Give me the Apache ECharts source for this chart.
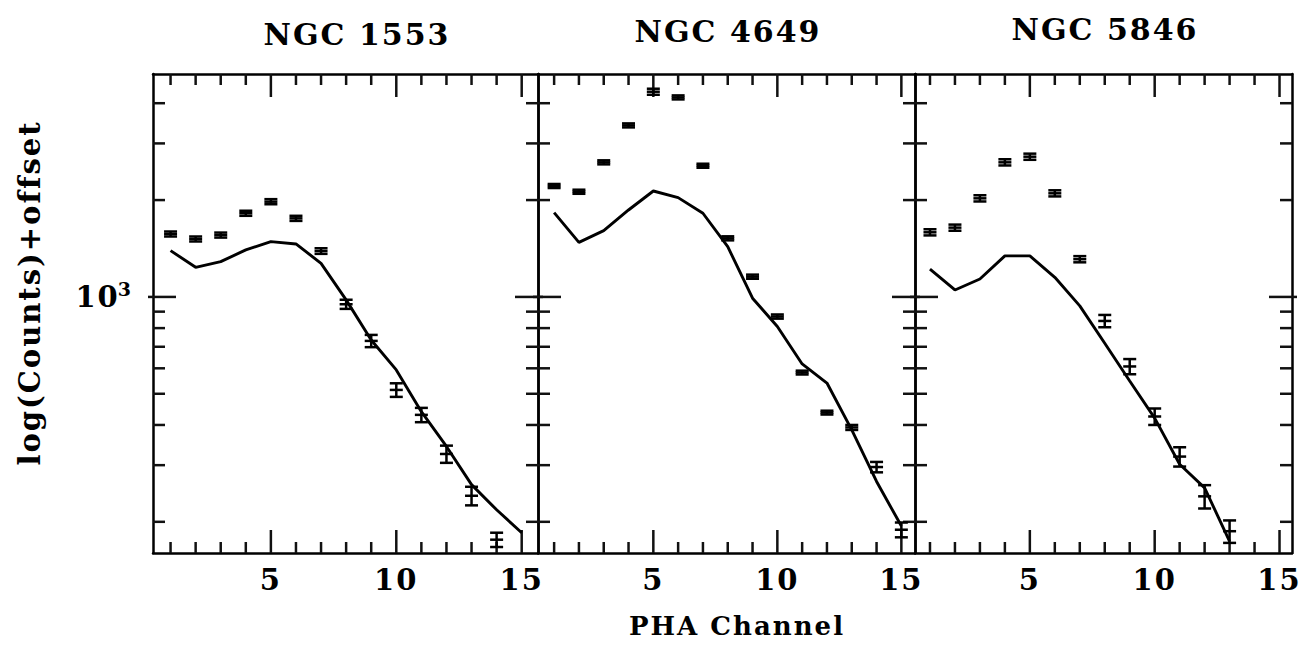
<!DOCTYPE html>
<html>
<head>
<meta charset="utf-8">
<script src="https://cdn.jsdelivr.net/npm/echarts@6/dist/echarts.min.js"></script>
<style>
html,body{margin:0;padding:0;background:#fff;}
#chart{width:1309px;height:656px;}
#chart text{letter-spacing:2px;}
</style>
</head>
<body>
<div id="chart"></div>
<script>
// ---------- data ----------
const titles = ['NGC 1553', 'NGC 4649', 'NGC 5846'];

const dataChannels1 = [1,2,3,4,5,6,7,8,9,10,11,12,13,14];
const counts1 = [1569,1514,1557,1820,1977,1755,1389,949,730,514,430,325,241,176];
const errors1 = [28,27,28,33,36,32,28,31,32,25,22,20,16,9];
const modelChannels1 = [1,2,3,4,5,6,7,8,9,10,11,12,13,14,15];
const model1 = [1393,1236,1287,1400,1485,1461,1272,979,735,593,440,343,261,218,185];

const dataChannels2 = [1,2,3,4,5,6,7,8,9,10,11,12,13,14,15];
const counts2 = [2212,2123,2620,3413,4343,4170,2557,1521,1156,869,582,437,393,296,189];
const errors2 = [32,31,38,49,94,60,37,22,17,13,8,6,7,11,10];
const modelChannels2 = [1,2,3,4,5,6,7,8,9,10,11,12,13,14,15];
const model2 = [1828,1478,1607,1863,2134,2035,1820,1433,991,809,619,540,386,267,194];

const dataChannels3 = [1,2,3,4,5,6,7,8,9,10,11,12,13];
const counts3 = [1588,1642,2025,2620,2728,2099,1310,842,608,425,319,240,187];
const errors3 = [35,36,45,58,60,46,29,37,33,25,22,20,15];
const modelChannels3 = [1,2,3,4,5,6,7,8,9,10,11,12,13];
const model3 = [1221,1051,1137,1341,1341,1151,938,718,548,420,302,255,174];

const xMinorTicks = [1,2,3,4,5,6,7,8,9,10,11,12,13,14,15];
const xMajorTicks = [5,10,15];
const yMinorTicks = [200,300,400,500,600,700,800,900,2000,3000,4000];
const yMajorTicks = [1000];
const yRange = [160, 4930];

const xAxisName = 'PHA Channel';
const yAxisName = 'log(Counts)+offset';

// ---------- layout ----------
const panelLeft = [153, 538, 915];
const panelWidth = [385, 377, 377];
const panelTop = 74;
const panelHeight = 479;
const xMin = [0.3, 0.35, 0.4];
const xMax = [15.65, 15.55, 15.5];
const titleX = [357, 728, 1105];
const titleY = [34, 31, 29];

const FONT = '"DejaVu Serif", serif';
const LW = 2.5;
const TICK_COLOR = '#111111';
const X_MINOR_LEN = 11, X_MAJOR_LEN = 23, Y_MINOR_LEN = 12, Y_MAJOR_LEN = 23, Y_MAJOR_OUT = 5;

const panels = [
  {ch: dataChannels1, v: counts1, e: errors1, mch: modelChannels1, m: model1},
  {ch: dataChannels2, v: counts2, e: errors2, mch: modelChannels2, m: model2},
  {ch: dataChannels3, v: counts3, e: errors3, mch: modelChannels3, m: model3}
];

const grids = [], xAxes = [], yAxes = [], series = [];

function xAx(p, pos, labels) {
  return {
    type: 'value', gridIndex: p, position: pos, min: xMin[p], max: xMax[p],
    axisLine: {show: true, onZero: false, lineStyle: {color: '#000', width: LW}},
    axisTick: {show: false},
    axisLabel: labels ? {show: true, customValues: labels, margin: 12, color: '#000',
      fontFamily: FONT, fontSize: 29, fontWeight: 'bold'} : {show: false},
    splitLine: {show: false}
  };
}
function yAx(p, pos, labels) {
  return {
    type: 'log', gridIndex: p, position: pos, min: yRange[0], max: yRange[1],
    axisLine: {show: true, onZero: false, lineStyle: {color: '#000', width: LW}},
    axisTick: {show: false},
    axisLabel: labels ? {
      show: true, customValues: labels, margin: 20, color: '#000',
      formatter: v => '{b|10}{s|' + Math.round(Math.log10(v)) + '}',
      rich: {
        b: {fontFamily: FONT, fontSize: 29, fontWeight: 'bold', color: '#000', lineHeight: 34},
        s: {fontFamily: FONT, fontSize: 19, fontWeight: 'bold', color: '#000', verticalAlign: 'top', lineHeight: 34}
      }
    } : {show: false},
    splitLine: {show: false}
  };
}

function seg(x1, y1, x2, y2, col) {
  return {type: 'line', shape: {x1: x1, y1: y1, x2: x2, y2: y2}, style: {stroke: col || '#000', lineWidth: LW}};
}

function renderErr(params, api) {
  const x = api.value(0), v = api.value(1), e = api.value(2);
  const hi = api.coord([x, v + e]);
  const lo = api.coord([x, v - e]);
  const mid = api.coord([x, v]);
  const hw = 6.5;
  return {
    type: 'group',
    children: [
      seg(hi[0], hi[1], lo[0], lo[1]),
      seg(hi[0] - hw, hi[1], hi[0] + hw, hi[1]),
      seg(lo[0] - hw, lo[1], lo[0] + hw, lo[1]),
      seg(mid[0] - hw, mid[1], mid[0] + hw, mid[1])
    ]
  };
}

// side: 0 bottom, 1 top, 2 left, 3 right
function renderTick(params, api) {
  const c = api.coord([api.value(0), api.value(1)]);
  const side = api.value(2), major = api.value(3);
  if (side === 0) { const L = major ? X_MAJOR_LEN : X_MINOR_LEN; return seg(c[0], c[1], c[0], c[1] - L, TICK_COLOR); }
  if (side === 1) { const L = major ? X_MAJOR_LEN : X_MINOR_LEN; return seg(c[0], c[1], c[0], c[1] + L, TICK_COLOR); }
  const L = major ? Y_MAJOR_LEN : Y_MINOR_LEN;
  const o = major ? Y_MAJOR_OUT : 0;
  if (side === 2) return seg(c[0] - o, c[1], c[0] + L, c[1], TICK_COLOR);
  return seg(c[0] + o, c[1], c[0] - L, c[1], TICK_COLOR);
}

function tickItems(p) {
  const out = [];
  xMinorTicks.forEach(v => {
    const mj = xMajorTicks.indexOf(v) >= 0 ? 1 : 0;
    out.push([v, yRange[0], 0, mj]);
    out.push([v, yRange[1], 1, mj]);
  });
  yMinorTicks.forEach(v => { out.push([xMin[p], v, 2, 0]); out.push([xMax[p], v, 3, 0]); });
  yMajorTicks.forEach(v => { out.push([xMin[p], v, 2, 1]); out.push([xMax[p], v, 3, 1]); });
  return out;
}

panels.forEach((P, p) => {
  grids.push({left: panelLeft[p], top: panelTop, width: panelWidth[p], height: panelHeight});
  xAxes.push(xAx(p, 'bottom', xMajorTicks));
  xAxes.push(xAx(p, 'top', null));
  yAxes.push(yAx(p, 'left', p === 0 ? yMajorTicks : null));
  yAxes.push(yAx(p, 'right', null));
});
panels.forEach((P, p) => {
  series.push({
    type: 'custom', xAxisIndex: 2 * p, yAxisIndex: 2 * p,
    data: tickItems(p),
    renderItem: renderTick, clip: false
  });
});
panels.forEach((P, p) => {
  series.push({
    type: 'line', xAxisIndex: 2 * p, yAxisIndex: 2 * p,
    data: P.mch.map((c, i) => [c, P.m[i]]),
    showSymbol: false, symbol: 'none', clip: true,
    lineStyle: {color: '#000', width: LW + 0.4}
  });
  series.push({
    type: 'custom', xAxisIndex: 2 * p, yAxisIndex: 2 * p,
    data: P.ch.map((c, i) => [c, P.v[i], P.e[i]]),
    renderItem: renderErr, clip: true
  });
});

const graphics = titles.map((t, p) => ({
  type: 'text', x: titleX[p], y: titleY[p],
  style: {text: t, fill: '#000', font: 'bold 30px ' + FONT, textAlign: 'center', textVerticalAlign: 'middle'}
}));
graphics.push({
  type: 'text', x: 737, y: 626,
  style: {text: xAxisName, fill: '#000', font: 'bold 26px ' + FONT, textAlign: 'center', textVerticalAlign: 'middle'}
});
graphics.push({
  type: 'text', x: 30, y: 293, rotation: Math.PI / 2,
  style: {text: yAxisName, fill: '#000', font: 'bold 29px ' + FONT, textAlign: 'center', textVerticalAlign: 'middle'}
});

const chart = echarts.init(document.getElementById('chart'), null, {renderer: 'svg'});
chart.setOption({
  animation: false,
  backgroundColor: '#fff',
  grid: grids,
  xAxis: xAxes,
  yAxis: yAxes,
  series: series,
  graphic: graphics
});
</script>
</body>
</html>
